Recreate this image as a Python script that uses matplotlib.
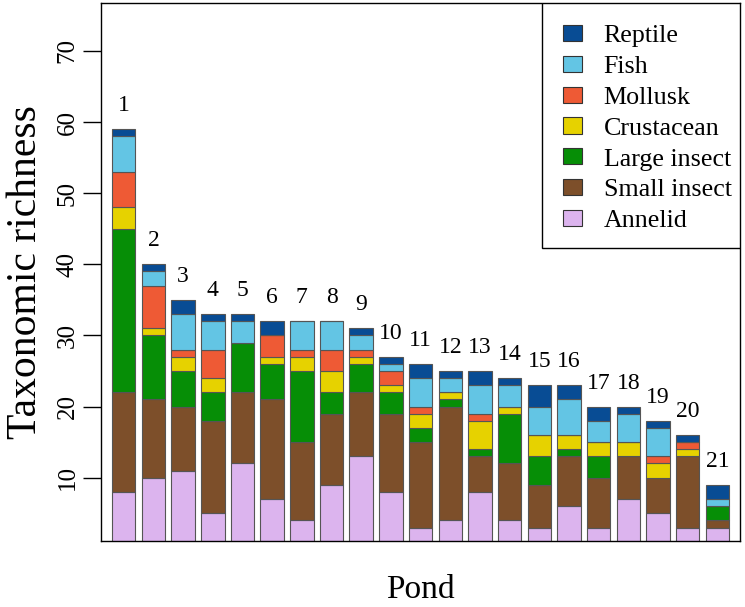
import numpy as np
import matplotlib
matplotlib.use("Agg")
import matplotlib.pyplot as plt
from matplotlib.patches import Patch, Rectangle

plt.rcParams["font.family"] = ["Liberation Serif", "DejaVu Serif"]

ponds = [str(i) for i in range(1, 22)]
groups = ["Annelid", "Small insect", "Large insect", "Crustacean", "Mollusk", "Fish", "Reptile"]
colors = ["#dcb4ee", "#7d4f2a", "#068e06", "#e6d200", "#ee5a35", "#63c5e4", "#084c94"]

annelid = [8, 10, 11, 5, 12, 7, 4, 9, 13, 8, 3, 4, 8, 4, 3, 6, 3, 7, 5, 3, 3]
small_insect = [14, 11, 9, 13, 10, 14, 11, 10, 9, 11, 12, 16, 5, 8, 6, 7, 7, 6, 5, 10, 1]
large_insect = [23, 9, 5, 4, 7, 5, 10, 3, 4, 3, 2, 1, 1, 7, 4, 1, 3, 0, 0, 0, 2]
crustacean = [3, 1, 2, 2, 0, 1, 2, 3, 1, 1, 2, 1, 4, 1, 3, 2, 2, 2, 2, 1, 0]
mollusk = [5, 6, 1, 4, 0, 3, 1, 3, 1, 2, 1, 0, 1, 0, 0, 0, 0, 0, 1, 1, 0]
fish = [5, 2, 5, 4, 3, 0, 4, 4, 2, 1, 4, 2, 4, 3, 4, 5, 3, 4, 4, 0, 1]
reptile = [1, 1, 2, 1, 1, 2, 0, 0, 1, 1, 2, 1, 2, 1, 3, 2, 2, 1, 1, 1, 2]

series = [annelid, small_insect, large_insect, crustacean, mollusk, fish, reptile]

fig = plt.figure(figsize=(7.45, 6.07), dpi=100)
ax = fig.add_axes([0.1352, 0.1087, 0.8581, 0.8859])

x = np.arange(1, len(ponds) + 1)
bottom = np.zeros(len(ponds))
for vals, col in zip(series, colors):
    vals = np.array(vals, dtype=float)
    ax.bar(x, vals, width=0.79, bottom=bottom, color=col,
           edgecolor="#555555", linewidth=0.8)
    bottom += vals

for xi, tot, lab in zip(x, bottom, ponds):
    ax.text(xi, tot + 3.3, lab, ha="center", va="center", fontsize=17)

ax.set_xlim(0.225, 21.76)
ax.set_ylim(1.1, 76.7)
ax.set_xticks([])
ax.set_yticks(range(10, 71, 10))
ax.tick_params(axis="y", length=13, width=1, labelsize=18, pad=3)
for t in ax.get_yticklabels():
    t.set_rotation(90)
    t.set_va("center")
for s in ax.spines.values():
    s.set_linewidth(1)

ax.set_ylabel("Taxonomic richness", fontsize=30, labelpad=8)
ax.set_xlabel("Pond", fontsize=24, labelpad=24)

# legend box drawn separately so the padding can match
ax.add_patch(Rectangle((0.690, 0.545), 0.31, 0.455, transform=ax.transAxes,
                       facecolor="white", edgecolor="black", linewidth=1, zorder=5))
handles = [Patch(facecolor=c, edgecolor="#333333", linewidth=0.8, label=g)
           for g, c in zip(groups[::-1], colors[::-1])]
leg = fig.legend(handles=handles, loc="upper left",
                 bbox_to_anchor=(563 / 745, 1 - 25 / 607),
                 frameon=False, fontsize=18.7, borderpad=0, borderaxespad=0,
                 handlelength=0.72, handleheight=0.58, handletextpad=0.85,
                 labelspacing=0.33)
leg.set_zorder(6)

fig.savefig("out.png", dpi=100)
